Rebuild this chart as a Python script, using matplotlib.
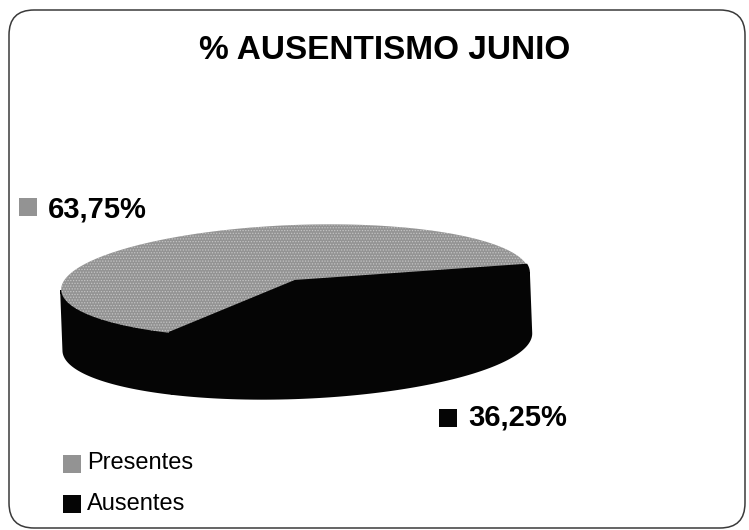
import numpy as np
import matplotlib.pyplot as plt
from matplotlib.patches import Polygon, FancyBboxPatch
from matplotlib.transforms import Affine2D

title = "% AUSENTISMO JUNIO"
categories = ["Presentes", "Ausentes"]
values = [63.75, 36.25]
value_labels = ["63,75%", "36,25%"]
top_colors = ["#939393", "#050505"]
side_colors = ["#050505", "#050505"]

plt.rcParams['font.family'] = ['Liberation Sans', 'DejaVu Sans']
plt.rcParams['hatch.color'] = '#c4c4c4'
plt.rcParams['hatch.linewidth'] = 0.6

W, H = 749, 530
fig = plt.figure(figsize=(W / 100, H / 100), dpi=100)
ax = fig.add_axes([0, 0, 1, 1])
ax.set_xlim(0, W)
ax.set_ylim(H, 0)
ax.axis('off')

# rounded frame
frame = FancyBboxPatch((9, 10), 736, 518, boxstyle="round,pad=0,rounding_size=25",
                       fill=False, edgecolor="#3a3a3a", linewidth=1.1)
ax.add_patch(frame)

ax.text(384.5, 59, title, ha='center', va='baseline', fontsize=24, fontweight='bold')

# 3d pie geometry (pixels)
cx, cy, a, b, depth = 295, 281, 234, 56, 61
tr = Affine2D().rotate_deg_around(cx, cy, -2.2) + ax.transData


def rim(t0, t1, n=120):
    t = np.radians(np.linspace(t0, t1, n))
    return cx + a * np.cos(t), cy - b * np.sin(t)


def front_part(t_hi, t_lo):
    # part of [t_lo, t_hi] that lies in the front half [-180, 0]
    parts = []
    for k in range(-2, 2):
        lo = max(t_lo, -180 + 360 * k)
        hi = min(t_hi, 0 + 360 * k)
        if hi > lo:
            parts.append((hi, lo))
    return parts


# Ausentes starts at the right edge, slices go clockwise
order = [1, 0]
start = 7.5
slices = []
t = start
for i in order:
    sweep = 360 * values[i] / sum(values)
    slices.append((i, t, t - sweep))
    t -= sweep

for i, t_hi, t_lo in slices:
    for hi, lo in front_part(t_hi, t_lo):
        x, y = rim(hi, lo)
        pts = np.r_[np.c_[x, y], np.c_[x[::-1], y[::-1] + depth]]
        ax.add_patch(Polygon(pts, closed=True, facecolor=side_colors[i],
                             edgecolor=side_colors[i], linewidth=1.5, transform=tr, zorder=1))

for i, t_hi, t_lo in slices:
    x, y = rim(t_hi, t_lo)
    pts = np.r_[[[cx, cy]], np.c_[x, y]]
    if i == 0:
        p = Polygon(pts, closed=True, facecolor=top_colors[i], linewidth=0,
                    hatch='......', transform=tr, zorder=2)
    else:
        p = Polygon(pts, closed=True, facecolor=top_colors[i], edgecolor=top_colors[i],
                    linewidth=1.5, transform=tr, zorder=3)
    ax.add_patch(p)

# value labels with colour keys
label_pos = [(28, 207, 48, 217), (448, 418, 468, 425)]
for i, (mx, my, tx, ty) in enumerate(label_pos):
    ax.scatter([mx], [my], marker='s', s=165, color=top_colors[i], linewidths=0,
               hatch='......' if i == 0 else None, zorder=3)
    ax.text(tx, ty, value_labels[i], ha='left', va='baseline', fontsize=21,
            fontweight='bold')

# legend
leg_pos = [(72, 464, 87, 469), (72, 504, 87, 510)]
for i, (mx, my, tx, ty) in enumerate(leg_pos):
    ax.scatter([mx], [my], marker='s', s=150, color=top_colors[i], linewidths=0,
               hatch='......' if i == 0 else None, zorder=3)
    ax.text(tx, ty, categories[i], ha='left', va='baseline', fontsize=17)

fig.savefig("out.png", dpi=100)
